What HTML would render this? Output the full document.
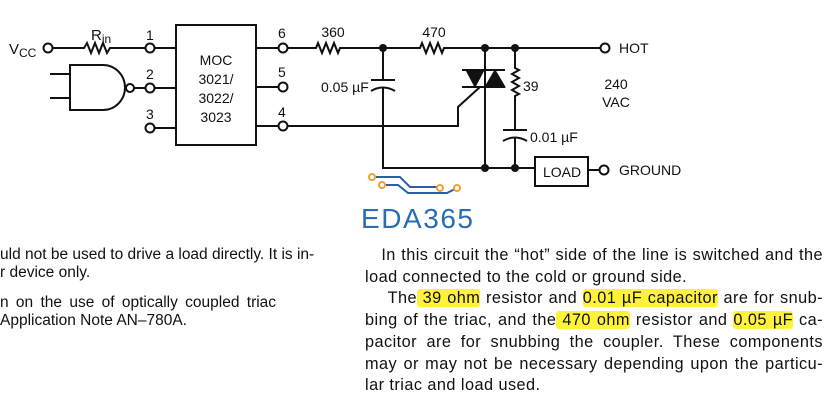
<!DOCTYPE html>
<html><head><meta charset="utf-8"><style>
body{margin:0;background:#fff;width:840px;height:400px;overflow:hidden;position:relative;font-family:"Liberation Sans",Arial,sans-serif;color:#111}
svg{position:absolute;left:0;top:0}
.t{position:absolute;font-size:16.3px;line-height:21.7px;letter-spacing:0.45px;text-align:justify;text-align-last:left;white-space:nowrap}
.h{background:#fff23a;border-radius:3px}
</style></head><body>
<svg width="840" height="400" viewBox="0 0 840 400" font-family="Liberation Sans, Arial, sans-serif" font-size="13" fill="none" stroke="#111" stroke-width="2">
<circle cx="48" cy="48" r="4.5" fill="#fff"/>
<path d="M52 48H84l3-5 4 10 4-10 4 10 4-10 4 10 3-5H146"/>
<circle cx="150" cy="48" r="4.5" fill="#fff"/>
<path d="M155 48H176M155 88H176M155 128H176"/>
<path d="M50 74H70M50 98H70"/>
<path d="M70 65H103A22 22.5 0 0 1 103 110H70Z"/>
<circle cx="130" cy="88" r="4" fill="#fff"/>
<path d="M134 88H146"/>
<circle cx="150" cy="88" r="4.5" fill="#fff"/>
<circle cx="150" cy="128" r="4.5" fill="#fff"/>
<rect x="176" y="25" width="80" height="120"/>
<path d="M256 48H279M256 87H279M256 126H279"/>
<circle cx="283" cy="48" r="4.5" fill="#fff"/>
<circle cx="283" cy="87" r="4.5" fill="#fff"/>
<circle cx="283" cy="126" r="4.5" fill="#fff"/>
<path d="M287 48H316l2-5 4 10 4-10 4 10 4-10 4 10 2-5H420l2-5 4 10 4-10 4 10 4-10 4 10 2-5H601"/>
<circle cx="605" cy="48" r="4.5" fill="#fff"/>
<path d="M383 48V80M371 80H395M371 91Q383 84 395 91M383 87V168H535"/>
<path d="M287 126H458V107L480 87"/>
<path d="M485 48V168M462 70H505M462 87H505"/>
<path d="M466 70H484L475 87Z M485 87H505L495 70Z" fill="#111" stroke-width="1"/>
<path d="M515 48V68l4 2-7 4 7 4-7 4 7 4-7 4 7 4-4 2V130M503 130H527M503 141Q515 134 527 141M515 137V168"/>
<rect x="535" y="157" width="53" height="29"/>
<path d="M588 170H600"/>
<circle cx="604" cy="170" r="4.5" fill="#fff"/>
<g fill="#111" stroke="none">
<circle cx="383" cy="48" r="4"/><circle cx="485" cy="48" r="4"/><circle cx="515" cy="48" r="4"/>
<circle cx="485" cy="168" r="4"/><circle cx="515" cy="168" r="4"/>
<text x="9" y="54" font-size="15">V<tspan font-size="12" dy="3">CC</tspan></text>
<text x="91" y="40" font-size="15">R<tspan font-size="12" dy="3">in</tspan></text>
<text x="146" y="40" font-size="14">1</text><text x="146" y="79" font-size="14">2</text><text x="146" y="119" font-size="14">3</text>
<text x="278" y="38" font-size="14">6</text><text x="278" y="77" font-size="14">5</text><text x="278" y="117" font-size="14">4</text>
<g font-size="14" text-anchor="middle"><text x="216" y="65">MOC</text><text x="216" y="84">3021/</text><text x="216" y="103">3022/</text><text x="216" y="122">3023</text>
<text x="333" y="37">360</text><text x="434" y="37">470</text><text x="616" y="89">240</text><text x="616" y="107">VAC</text></g>
<text x="321" y="92" font-size="14">0.05 µF</text>
<text x="523" y="91" font-size="14">39</text>
<text x="530" y="142" font-size="14">0.01 µF</text>
<text x="543" y="177" font-size="14">LOAD</text>
<text x="619" y="53" font-size="14">HOT</text>
<text x="619" y="175" font-size="14">GROUND</text>
</g>
<g stroke="#2a5fa8" stroke-width="2"><path d="M376 177H400L410 187H437M386 185H398L408 193H447L455 189"/></g>
<g stroke="#f0a030" stroke-width="2" fill="#fff"><circle cx="372" cy="177" r="3"/><circle cx="382" cy="185" r="3"/><circle cx="440" cy="188" r="3"/><circle cx="457" cy="188" r="3"/></g>
<text x="361" y="228" font-size="28" fill="#2a6db5" stroke="none" textLength="112">EDA365</text>
</svg>
<div class="t" style="left:0;top:246px;width:330px;line-height:18px;font-size:15.5px;letter-spacing:0">uld not be used to drive a load directly. It is in-<br>r device only.</div>
<div class="t" style="left:0;top:294px;width:330px;line-height:18px;font-size:15.5px;letter-spacing:0;word-spacing:3px">n on the use of optically coupled triac<br><span style="word-spacing:0">Application Note AN–780A.</span></div>
<div class="t" style="left:365px;top:245px;width:458px">
<div style="text-align-last:justify">&nbsp;&nbsp;&nbsp;In this circuit the “hot” side of the line is switched and the</div>
<div>load connected to the cold or ground side.</div>
<div style="text-align-last:justify">&nbsp;&nbsp;&nbsp;&nbsp;The<span class="h"> 39 ohm</span> resistor and <span class="h">0.01 µF capacitor</span> are for snub-</div>
<div style="text-align-last:justify">bing of the triac, and the<span class="h"> 470 ohm</span> resistor and <span class="h">0.05 µF</span> ca-</div>
<div style="text-align-last:justify">pacitor are for snubbing the coupler. These components</div>
<div style="text-align-last:justify">may or may not be necessary depending upon the particu-</div>
<div>lar triac and load used.</div>
</div>
</body></html>
